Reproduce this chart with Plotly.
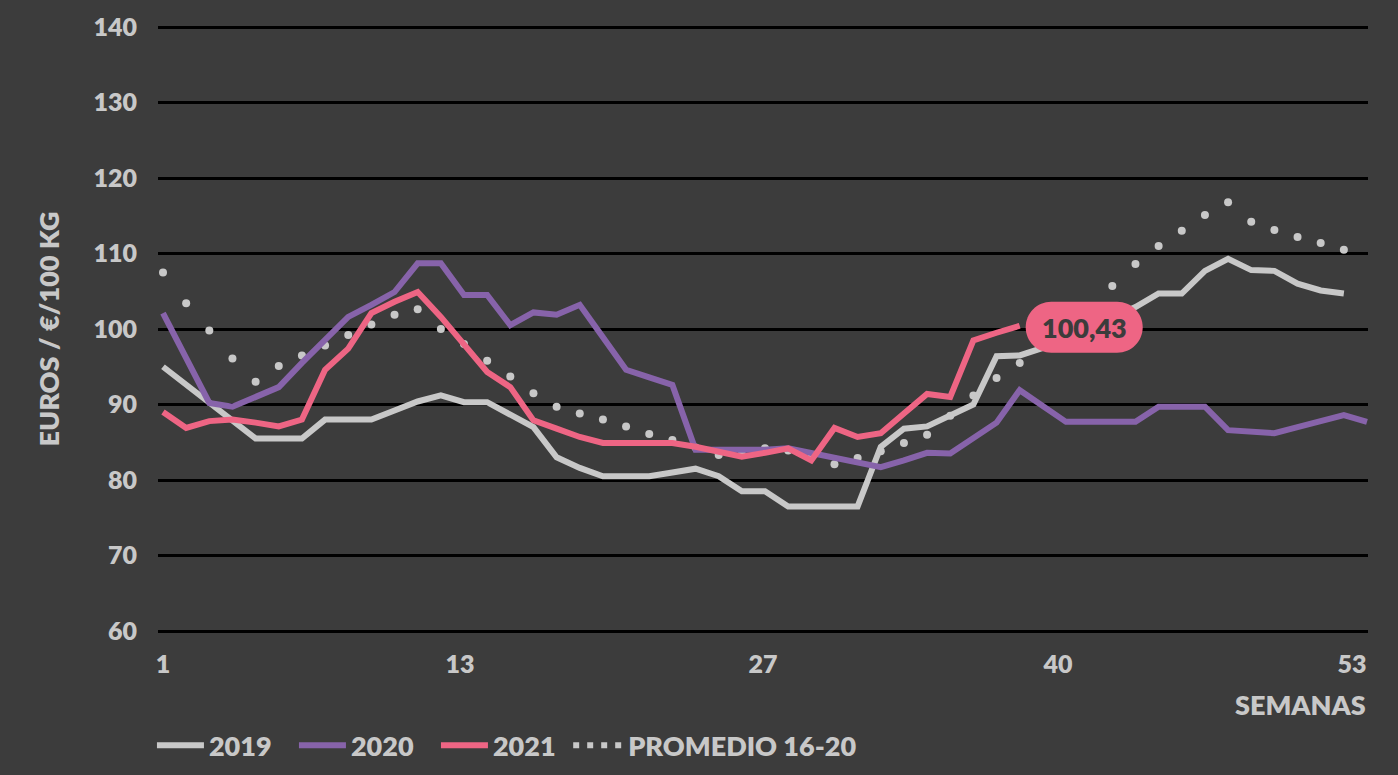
import plotly.graph_objects as go

# ---- data ----
weeks_2019 = list(range(1, 53))
v2019 = [95.0, 92.6, 90.2, 87.8, 85.5, 85.5, 85.5, 88.0, 88.0, 88.0,
         89.2, 90.4, 91.2, 90.3, 90.3, 88.6, 87.0, 83.0, 81.6, 80.5,
         80.5, 80.5, 81.0, 81.5, 80.5, 78.5, 78.5, 76.5, 76.5, 76.5,
         76.5, 84.4, 86.8, 87.1, 88.6, 90.0, 96.4, 96.5, 97.5, 98.8,
         100.2, 101.6, 102.9, 104.7, 104.7, 107.7, 109.3, 107.8, 107.7, 106.0,
         105.1, 104.7]

weeks_2020 = list(range(1, 54))
v2020 = [102.1, 96.0, 90.2, 89.7, 91.0, 92.3, 95.5, 98.5, 101.6, 103.2,
         104.9, 108.7, 108.7, 104.5, 104.5, 100.5, 102.2, 101.9, 103.2, 98.9,
         94.6, 93.6, 92.6, 84.0, 84.0, 84.0, 84.0, 84.2, 83.6, 83.0,
         82.3, 81.7, 82.6, 83.6, 83.5, 85.5, 87.6, 91.9, 89.8, 87.7,
         87.7, 87.7, 87.7, 89.7, 89.7, 89.7, 86.6, 86.3, 86.2, 87.0,
         87.8, 88.6, 87.7]

weeks_2021 = list(range(1, 39))
v2021 = [89.0, 86.9, 87.8, 88.0, 87.6, 87.1, 88.0, 94.6, 97.4, 102.1,
         103.6, 104.9, 101.6, 98.0, 94.3, 92.3, 87.9, 86.8, 85.7, 84.9,
         84.9, 84.9, 84.9, 84.4, 83.8, 83.1, 83.6, 84.2, 82.6, 86.9,
         85.7, 86.2, 88.8, 91.4, 91.0, 98.5, 99.5, 100.43]

weeks_avg = list(range(1, 53))
v_avg = [107.5, 103.4, 99.8, 96.1, 93.0, 95.1, 96.5, 97.8, 99.2, 100.6,
         101.9, 102.6, 100.0, 98.0, 95.8, 93.7, 91.5, 89.7, 88.8, 88.0,
         87.1, 86.1, 85.3, 84.3, 83.3, 83.4, 84.2, 83.9, 83.0, 82.1,
         82.9, 83.8, 84.9, 86.0, 88.5, 91.2, 93.5, 95.5, 97.8, 100.4,
         103.0, 105.7, 108.6, 111.0, 113.0, 115.1, 116.8, 114.2, 113.1, 112.2,
         111.4, 110.5]

x_tick_labels = ["1", "13", "27", "40", "53"]
x_tick_pos = [1, 13.83, 26.91, 39.65, 52.35]
y_ticks = [60, 70, 80, 90, 100, 110, 120, 130, 140]
last_label = "100,43"

# ---- styles ----
BG = "#3c3c3c"
TXT = "#c8c8c8"
C2019 = "#c8c8c8"
C2020 = "#8763aa"
C2021 = "#ee6584"
FONT = "Lato"
WT = 800
LW = 6

fig = go.Figure()

fig.add_trace(go.Scatter(x=weeks_avg, y=v_avg, mode="markers",
                         marker=dict(size=8, color=C2019),
                         showlegend=False, hoverinfo="skip"))
fig.add_trace(go.Scatter(x=weeks_2019, y=v2019, mode="lines", name="2019",
                         line=dict(color=C2019, width=LW)))
fig.add_trace(go.Scatter(x=weeks_2020, y=v2020, mode="lines", name="2020",
                         line=dict(color=C2020, width=LW)))
fig.add_trace(go.Scatter(x=weeks_2021, y=v2021, mode="lines", name="2021",
                         line=dict(color=C2021, width=LW)))
fig.add_trace(go.Scatter(x=[None], y=[None], mode="lines", name="PROMEDIO 16-20",
                         legend="legend2",
                         line=dict(color=C2019, width=6, dash="6px,8px")))

# rounded label next to the last 2021 value (pixel offsets from the point)
x0, x1, yb, yt = 6, 123, -27, 24
r = (yt - yb) / 2
cy = (yt + yb) / 2
k = 0.5523 * r
path = (f"M{x0+r},{yb} L{x1-r},{yb} "
        f"C{x1-r+k},{yb} {x1},{cy-k} {x1},{cy} "
        f"C{x1},{cy+k} {x1-r+k},{yt} {x1-r},{yt} "
        f"L{x0+r},{yt} "
        f"C{x0+r-k},{yt} {x0},{cy+k} {x0},{cy} "
        f"C{x0},{cy-k} {x0+r-k},{yb} {x0+r},{yb} Z")
fig.add_shape(type="path", path=path, xref="x", yref="y",
              xsizemode="pixel", ysizemode="pixel",
              xanchor=weeks_2021[-1], yanchor=v2021[-1],
              fillcolor=C2021, line=dict(width=0), layer="above")
fig.add_annotation(x=weeks_2021[-1], y=v2021[-1], text=last_label,
                   showarrow=False, xanchor="center", yanchor="middle",
                   xshift=(x0 + x1) / 2, yshift=cy,
                   font=dict(family=FONT, size=27, color=BG, weight=WT))

fig.add_annotation(xref="paper", yref="paper", x=1, y=-0.118,
                   xanchor="right", yanchor="middle", showarrow=False,
                   text="SEMANAS",
                   font=dict(family=FONT, size=27, color=TXT, weight=WT))

legend_font = dict(family=FONT, size=27, color=TXT, weight=WT)

fig.update_layout(
    width=1398, height=775,
    paper_bgcolor=BG, plot_bgcolor=BG,
    margin=dict(l=158, r=30, t=25, b=142, autoexpand=False),
    font=dict(family=FONT, size=25, color=TXT, weight=WT),
    xaxis=dict(range=[0.784, 53.043], showgrid=False, zeroline=False,
               tickvals=x_tick_pos, ticktext=x_tick_labels, ticks="",
               tickfont=dict(family=FONT, size=25, color=TXT, weight=WT),
               ticklabelstandoff=14),
    yaxis=dict(range=[59.735, 140.265], tickvals=y_ticks, ticks="",
               showgrid=True, gridcolor="#000000", gridwidth=3, zeroline=False,
               tickfont=dict(family=FONT, size=25, color=TXT, weight=WT),
               ticklabelstandoff=20,
               title=dict(text="EUROS / €/100 KG", standoff=26,
                          font=dict(family=FONT, size=27, color=TXT, weight=WT))),
    legend=dict(orientation="h", x=-0.005, xanchor="left", y=-0.145, yanchor="top",
                font=legend_font,
                itemwidth=47, entrywidth=80, entrywidthmode="pixels",
                bgcolor="rgba(0,0,0,0)", tracegroupgap=0),
    legend2=dict(orientation="h", x=0.339, xanchor="left", y=-0.145, yanchor="top",
                 font=legend_font, itemwidth=50,
                 bgcolor="rgba(0,0,0,0)", tracegroupgap=0),
    showlegend=True,
)

fig.write_html(
    "out.html",
    config={"displayModeBar": False},
    post_script="document.body.style.margin='0';"
                "document.body.style.background='#3c3c3c';"
                "document.body.style.overflow='hidden';",
)
